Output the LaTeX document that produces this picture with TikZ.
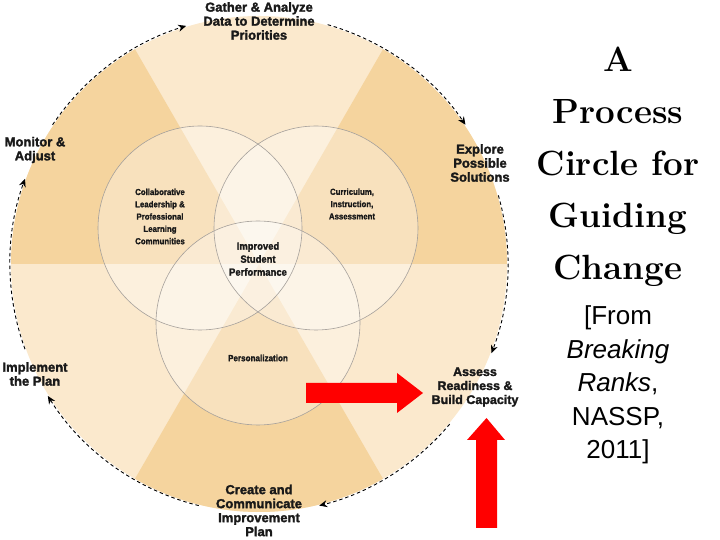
\documentclass[tikz,border=0pt]{standalone}
\usepackage{fontspec}
\newfontfamily\labelfont[BoldFeatures={FakeBold=2}]{Liberation Sans}
\newfontfamily\narrowfont[FakeStretch=0.9, BoldFeatures={FakeBold=1.4}]{Liberation Sans}
\usepackage{xcolor}
\usetikzlibrary{arrows.meta, positioning}
\definecolor{sectorlight}{RGB}{251,233,205}
\definecolor{sectordark}{RGB}{245,212,158}
\definecolor{venngray}{RGB}{165,160,155}

\begin{document}
\begin{tikzpicture}[
    x=1pt, y=1pt,
    stage/.style={font=\labelfont\bfseries\fontsize{13}{14}\selectfont, align=center, text=black!90},
    focus/.style={font=\narrowfont\bfseries\fontsize{8.7}{12.3}\selectfont, align=center, text=black!90},
    vennfill/.style={fill=white, fill opacity=0.32},
    vennline/.style={draw=venngray, line width=0.6pt},
    looparc/.style={black, line width=0.9pt, dash pattern=on 3.5pt off 2.8pt, -{Stealth[length=8pt, width=7pt]}},
    redarrow/.style={fill=red}
]
    \useasboundingbox (0,0) rectangle (720,540);
    \coordinate (c) at (259,276);

    % Background wheel
    \fill[sectorlight] (c) circle[radius=248];
    \fill[sectordark] (c) -- ++(0:248) arc[start angle=0, end angle=60, radius=248] -- cycle;
    \fill[sectordark] (c) -- ++(120:248) arc[start angle=120, end angle=180, radius=248] -- cycle;
    \fill[sectordark] (c) -- ++(240:248) arc[start angle=240, end angle=300, radius=248] -- cycle;

    % Venn circles
    \coordinate (lead) at (200,312);
    \coordinate (curr) at (316,312);
    \coordinate (pers) at (258,217);
    \fill[vennfill] (lead) circle[radius=102];
    \fill[vennfill] (curr) circle[radius=102];
    \fill[vennfill] (pers) circle[radius=102];
    \draw[vennline] (lead) circle[radius=102];
    \draw[vennline] (curr) circle[radius=102];
    \draw[vennline] (pers) circle[radius=102];

    \node[focus] (leadtext) at (160,323.5) {Collaborative\\Leadership \&\\Professional\\Learning\\Communities};
    \node[focus] (currtext) at (352,336) {Curriculum,\\Instruction,\\Assessment};
    \node[focus, font=\narrowfont\bfseries\fontsize{10.5}{13}\selectfont] (core) at (258,281) {Improved\\Student\\Performance};
    \node[focus, font=\narrowfont\bfseries\fontsize{9}{11}\selectfont] (perstext) at (258,182) {Personalization};

    % Stages of the cycle
    \node[stage] (gather) at (259,519) {Gather \& Analyze\\Data to Determine\\Priorities};
    \node[stage] (explore) at (480,377) {Explore\\Possible\\Solutions};
    \node[stage, font=\labelfont\bfseries\fontsize{12.5}{14}\selectfont] (assess) at (475,153) {Assess\\Readiness \&\\Build Capacity};
    \node[stage] (create) at (259,29.5) {Create and\\Communicate\\Improvement\\Plan};
    \node[stage] (implement) at (35,166) {Implement\\the Plan};
    \node[stage] (monitor) at (35,390) {Monitor \&\\Adjust};

    % Dashed cycle
    \draw[looparc] ([shift={(146:249)}]c) arc[start angle=146, end angle=107, radius=249];
    \draw[looparc] ([shift={(74:249)}]c) arc[start angle=74, end angle=34, radius=249];
    \draw[looparc] ([shift={(16:249)}]c) arc[start angle=16, end angle=-21, radius=249];
    \draw[looparc] ([shift={(-40:249)}]c) arc[start angle=-40, end angle=-76, radius=249];
    \draw[looparc] ([shift={(-104:249)}]c) arc[start angle=-104, end angle=-148, radius=249];
    \draw[looparc] ([shift={(200:249)}]c) arc[start angle=200, end angle=160, radius=249];

    % Pointers
    \fill[redarrow] (306,137) -- (397,137) -- (397,127) -- (423,147) -- (397,167) -- (397,157) -- (306,157) -- cycle;
    \fill[redarrow] (476,12) -- (497,12) -- (497,100) -- (505,100) -- (486.5,122) -- (467,100) -- (476,100) -- cycle;

    % Title
    \node[font=\bfseries\fontsize{35}{52}\selectfont, align=center] (title) at (618,373) {A\\Process\\Circle for\\Guiding\\Change};
    \node[font=\labelfont\fontsize{26}{33.5}\selectfont, align=center, below=12pt of title] (source) {[From\\\textit{Breaking}\\\textit{Ranks},\\NASSP,\\2011]};
\end{tikzpicture}
\end{document}
